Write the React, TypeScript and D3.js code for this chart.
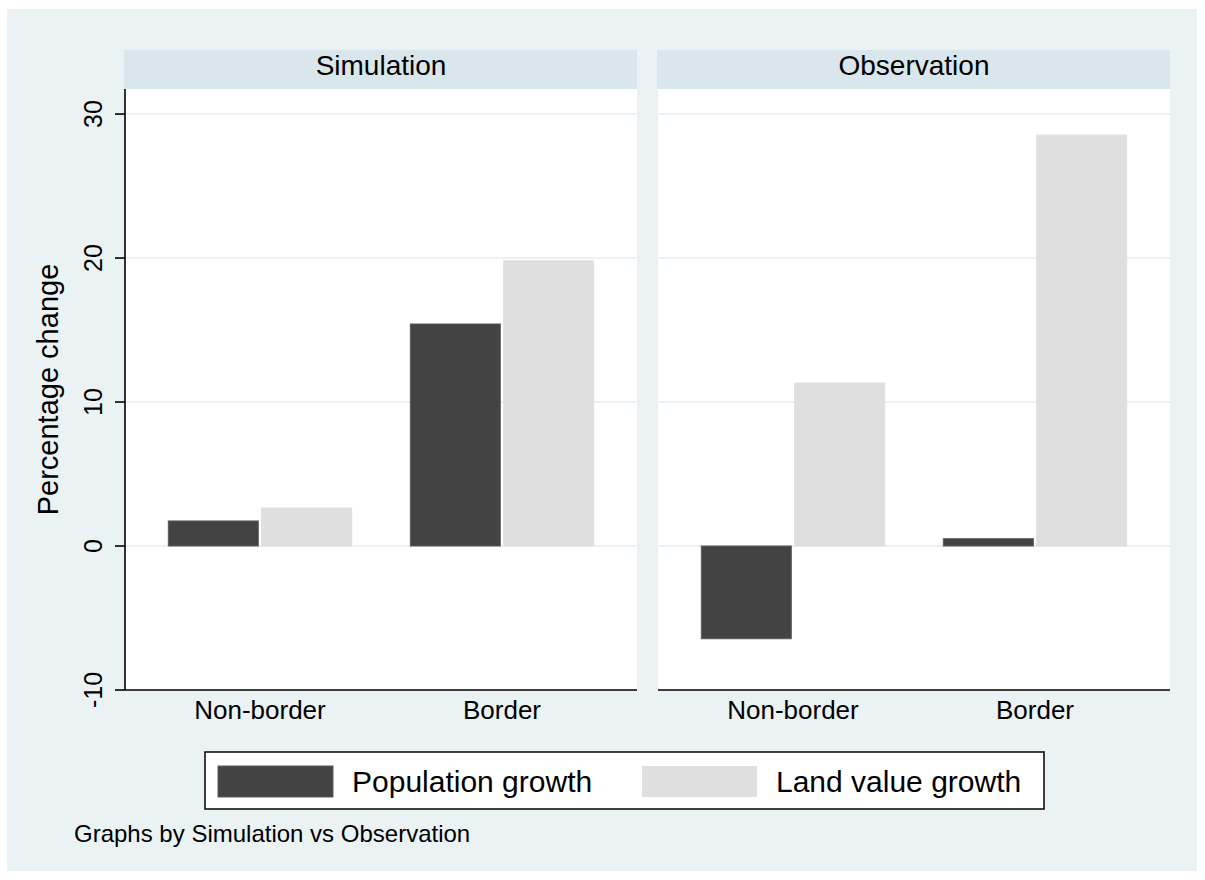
import React from "react";
import * as d3 from "d3";

const panels = ["Simulation", "Observation"];
const categories = ["Non-border", "Border"];
const seriesNames = ["Population growth", "Land value growth"];
const populationGrowth = [
  [1.74, 15.42],
  [-6.44, 0.51],
];
const landValueGrowth = [
  [2.64, 19.8],
  [11.32, 28.54],
];
const yTicks = [-10, 0, 10, 20, 30];
const noteText = "Graphs by Simulation vs Observation";
const yTitle = "Percentage change";

const W = 1205;
const H = 880;
const FONT = "'Liberation Sans', Arial, Helvetica, sans-serif";
const BG = "#EAF2F3";
const STRIP = "#D9E6EB";
const GRID = "#EAF2F3";
const DARK = "#434343";
const LIGHT = "#DFDFDF";
const seriesColors = [DARK, LIGHT];
const seriesStroke = ["#5c5c5c", "#DFDFDF"];

export default function App() {
  const plotTop = 89;
  const plotBottom = 690;
  const panelX = [125, 658];
  const panelW = 512;

  const y = d3.scaleLinear().domain([-10, 31.74]).range([plotBottom, plotTop]);
  const seriesData = [populationGrowth, landValueGrowth];

  return (
    <svg
      width={W}
      height={H}
      style={{ position: "absolute", left: 0, top: 0, display: "block" }}
      fontFamily={FONT}
    >
      <rect x={0} y={0} width={W} height={H} fill="#ffffff" />
      <rect x={7} y={9} width={1190} height={862} fill={BG} />

      {panels.map((p, pi) => {
        const x0 = panelX[pi];
        const xGroup = d3
          .scaleBand<string>()
          .domain(categories)
          .range([x0, x0 + panelW])
          .paddingInner(0.2425)
          .paddingOuter(0.179);
        const xSeries = d3
          .scaleBand<string>()
          .domain(seriesNames)
          .range([0, xGroup.bandwidth()])
          .paddingInner(0.036)
          .paddingOuter(0);
        return (
          <g key={p}>
            {/* strip */}
            <rect x={x0 - 1} y={50} width={panelW + 1} height={plotTop - 50} fill={STRIP} />
            <text
              x={x0 + panelW / 2}
              y={75}
              textAnchor="middle"
              fontSize={28}
              fill="#000"
            >
              {p}
            </text>
            {/* plot region */}
            <rect x={x0} y={plotTop} width={panelW} height={plotBottom - plotTop} fill="#ffffff" />
            {/* gridlines */}
            {yTicks
              .filter((t) => t !== -10)
              .map((t) => (
                <line
                  key={t}
                  x1={x0}
                  x2={x0 + panelW}
                  y1={y(t)}
                  y2={y(t)}
                  stroke={GRID}
                  strokeWidth={2}
                />
              ))}
            {/* bars */}
            {categories.map((c, ci) =>
              seriesNames.map((s, si) => {
                const v = seriesData[si][pi][ci];
                const bx = (xGroup(c) ?? 0) + (xSeries(s) ?? 0);
                const top = Math.min(y(v), y(0));
                const h = Math.abs(y(v) - y(0));
                return (
                  <rect
                    key={c + s}
                    x={bx}
                    y={top}
                    width={xSeries.bandwidth()}
                    height={h}
                    fill={seriesColors[si]}
                    stroke={seriesStroke[si]}
                    strokeWidth={1}
                  />
                );
              })
            )}
            {/* x axis */}
            <line
              x1={x0}
              x2={x0 + panelW}
              y1={plotBottom}
              y2={plotBottom}
              stroke="#000"
              strokeWidth={1.6}
            />
            {categories.map((c) => (
              <text
                key={c}
                x={(xGroup(c) ?? 0) + xGroup.bandwidth() / 2}
                y={719}
                textAnchor="middle"
                fontSize={26}
                fill="#000"
              >
                {c}
              </text>
            ))}
          </g>
        );
      })}

      {/* y axis on first panel */}
      <line x1={panelX[0]} x2={panelX[0]} y1={plotTop} y2={plotBottom} stroke="#000" strokeWidth={1.6} />
      {yTicks.map((t) => (
        <g key={t}>
          <line x1={115} x2={panelX[0]} y1={y(t)} y2={y(t)} stroke="#000" strokeWidth={1.6} />
          <text
            transform={`translate(102,${y(t)}) rotate(-90)`}
            textAnchor="middle"
            fontSize={25}
            fill="#000"
          >
            {t}
          </text>
        </g>
      ))}
      <text
        transform={`translate(58,${(plotTop + plotBottom) / 2}) rotate(-90)`}
        textAnchor="middle"
        fontSize={29}
        fill="#000"
      >
        {yTitle}
      </text>

      {/* legend */}
      <rect x={205} y={752} width={839} height={57} fill="#ffffff" stroke="#111" strokeWidth={1.6} />
      <rect x={218} y={766} width={115} height={31} fill={DARK} stroke="#5c5c5c" strokeWidth={1} />
      <text x={352} y={792} fontSize={30} fill="#000">
        {seriesNames[0]}
      </text>
      <rect x={642} y={766} width={115} height={31} fill={LIGHT} />
      <text x={776} y={792} fontSize={30} fill="#000">
        {seriesNames[1]}
      </text>

      {/* note */}
      <text x={74} y={842} fontSize={24} fill="#000">
        {noteText}
      </text>
    </svg>
  );
}
